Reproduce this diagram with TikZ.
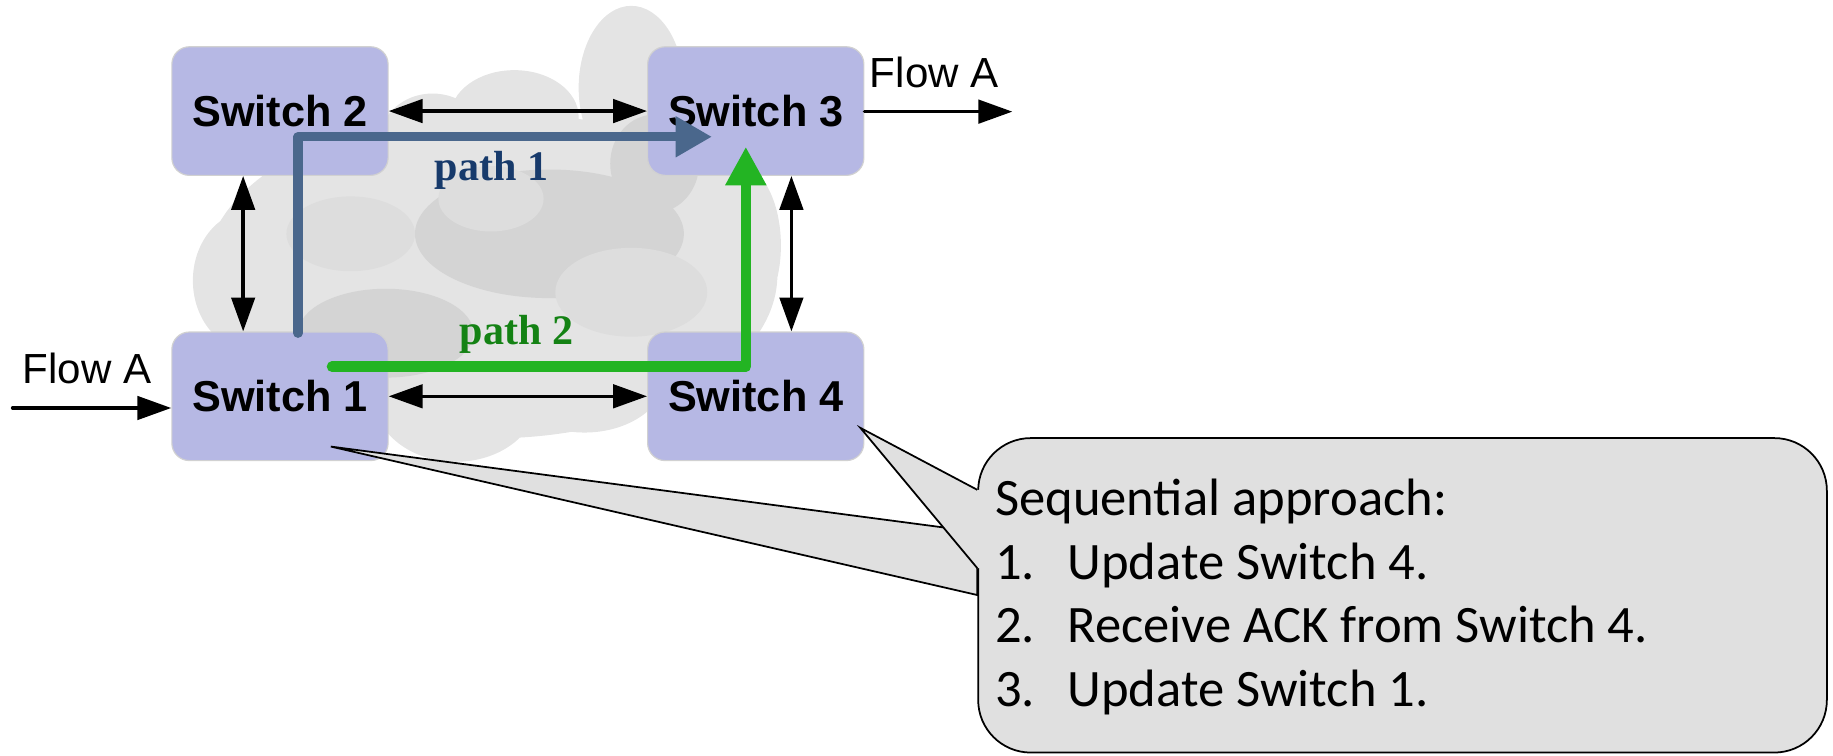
\documentclass[tikz,border=0pt]{standalone}
\usepackage{fontspec}
\setmainfont{Liberation Sans}
\newfontfamily\notefont{Carlito}
\newfontfamily\pathfont{Liberation Serif}
\usepackage{xcolor}
\usepackage{tikz}
\usetikzlibrary{arrows.meta,positioning,calc}

\definecolor{swfill}{RGB}{182,184,228}
\definecolor{p1col}{RGB}{74,103,140}
\definecolor{p2col}{RGB}{35,180,35}
\definecolor{p1text}{RGB}{23,58,107}
\definecolor{p2text}{RGB}{20,130,20}
\definecolor{notefill}{RGB}{224,224,224}
\definecolor{cloudlight}{RGB}{228,228,228}
\definecolor{cloudmid}{RGB}{221,221,221}
\definecolor{clouddark}{RGB}{212,212,212}

\begin{document}
\begin{tikzpicture}[
  x=1pt, y=1pt,
  switchbox/.style={draw=black!18, line width=1pt, fill=swfill, rounded corners=15pt, minimum width=185pt, minimum height=110pt, inner sep=0pt, font=\fontsize{37}{44}\selectfont\bfseries},
  biarr/.style={{Triangle[length=29pt,width=20pt]}-{Triangle[length=29pt,width=20pt]}, line width=3pt},
  arr/.style={-{Triangle[length=29pt,width=20pt]}, line width=3pt, line cap=round},
  flowlbl/.style={font=\fontsize{36}{43}\selectfont, inner sep=0pt, anchor=base west},
  pathlbl/.style={font=\fontsize{36}{43}\selectfont\pathfont\bfseries, inner sep=0pt, anchor=base},
  route/.style={line cap=round, line join=round},
  notebox/.style={draw=black, line width=1.5pt, fill=notefill},
  notetext/.style={font=\fontsize{45}{54}\selectfont\notefont, inner sep=0pt, anchor=base west},
  node distance=133pt and 221pt
]

\useasboundingbox (0,0) rectangle (1568,-646);

% cloud behind the switches
\fill[cloudlight] (420,-235) ellipse [x radius=245, y radius=140]
  (540,-75) ellipse [x radius=45, y radius=70]
  (440,-100) ellipse [x radius=55, y radius=40]
  (370,-120) ellipse [x radius=45, y radius=40]
  (215,-240) ellipse [x radius=50, y radius=60]
  (390,-340) ellipse [x radius=70, y radius=55]
  (630,-210) ellipse [x radius=38, y radius=70]
  (500,-320) ellipse [x radius=70, y radius=50]
  (600,-120) ellipse [x radius=50, y radius=50];
\fill[clouddark] (470,-200) ellipse [x radius=115, y radius=55]
  (560,-140) ellipse [x radius=38, y radius=42]
  (330,-285) ellipse [x radius=75, y radius=38];
\fill[cloudmid] (540,-250) ellipse [x radius=65, y radius=38]
  (300,-200) ellipse [x radius=55, y radius=32]
  (420,-170) ellipse [x radius=45, y radius=28];

\node[switchbox] (sw2) at (239.5,-95) {Switch 2};
\node[switchbox, right=of sw2] (sw3) {Switch 3};
\node[switchbox, below=of sw2] (sw1) {Switch 1};
\node[switchbox, right=of sw1] (sw4) {Switch 4};

\draw[biarr] (sw2) -- (sw3);
\draw[biarr] (sw1) -- (sw4);
\draw[biarr] ([xshift=-31.5pt]sw2.south) -- ([xshift=-31.5pt]sw1.north);
\draw[biarr] ([xshift=30.5pt]sw3.south) -- ([xshift=30.5pt]sw4.north);

\coordinate (inA) at (10.8,-349);
\draw[arr] (inA) -- (inA -| sw1.west);
\node[flowlbl] (inlbl) at (19.4,-327.8) {Flow A};
\coordinate (outA) at (866,-95.5);
\draw[arr] (sw3.east |- outA) -- (outA);
\node[flowlbl] (outlbl) at (744,-75) {Flow A};

\coordinate (p1s) at (255,-285);
\coordinate (p1e) at (609,-117);
\draw[route, p1col, line width=8pt, -{Triangle[length=31pt,width=33pt]}] (p1s) |- (p1e);
\coordinate (p2s) at (284,-313.7);
\coordinate (p2e) at (638,-125.5);
\draw[route, p2col, line width=9pt, -{Triangle[length=33pt,width=33pt]}] (p2s) -| (p2e);
\node[pathlbl, text=p1text] (lbl1) at (420.5,-154) {path 1};
\node[pathlbl, text=p2text] (lbl2) at (442,-295) {path 2};

% callout with two pointers
\coordinate (tip1) at (283,-382);
\coordinate (tip4) at (736,-366);
\coordinate (noteNW) at (836,-374);
\filldraw[notebox, line join=miter] (tip1) -- ([yshift=-81pt]noteNW) -- ([yshift=-135pt]noteNW) -- cycle;
\node[notebox, rounded corners=45pt, minimum width=726pt, minimum height=269pt, anchor=north west, inner sep=0pt] (note) at (noteNW) {};
\fill[notefill] (tip4) -- ([yshift=-45pt]noteNW) -- ([shift={(3pt,-45pt)}]noteNW) -- ([shift={(3pt,-112pt)}]noteNW) -- ([yshift=-112pt]noteNW) -- cycle;
\draw[line width=1.5pt, line join=miter] ([yshift=-45pt]noteNW) -- (tip4) -- ([yshift=-112pt]noteNW);

\node[notetext] (title) at (851,-440.6) {Sequential approach:};
\node[notetext, below=54.7pt of title.base west, anchor=base west] (item1) {\makebox[62pt][l]{1.}Update Switch 4.};
\node[notetext, below=54.7pt of item1.base west, anchor=base west] (item2) {\makebox[62pt][l]{2.}Receive ACK from Switch 4.};
\node[notetext, below=54.7pt of item2.base west, anchor=base west] (item3) {\makebox[62pt][l]{3.}Update Switch 1.};

\end{tikzpicture}
\end{document}
